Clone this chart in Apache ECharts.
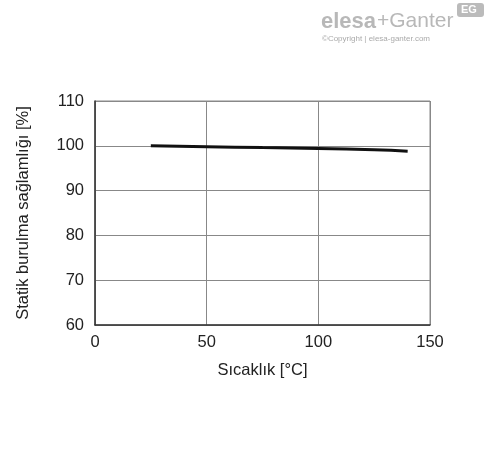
<!DOCTYPE html>
<html>
<head>
<meta charset="utf-8">
<script src="https://cdn.jsdelivr.net/npm/echarts@6/dist/echarts.min.js"></script>
<style>html,body{margin:0;padding:0;background:#fff}#c{width:488px;height:454px}</style>
</head>
<body>
<div id="c"></div>
<script>
const temperatures = [25, 50, 75, 100, 125, 140];
const strength = [100, 99.8, 99.6, 99.4, 99.1, 98.8];
const xTicks = [0, 50, 100, 150];
const yTicks = [60, 70, 80, 90, 100, 110];
const xName = 'Sıcaklık [°C]';
const yName = 'Statik burulma sağlamlığı [%]';

const chart = echarts.init(document.getElementById('c'), null, {renderer: 'canvas'});
const font = 'Arial, "Liberation Sans", sans-serif';
chart.setOption({
  animation: false,
  backgroundColor: '#fff',
  grid: {left: 95, right: 58, top: 101, bottom: 129, show: true, borderColor: '#888', borderWidth: 1},
  xAxis: {
    type: 'value', min: xTicks[0], max: xTicks[xTicks.length - 1], interval: 50,
    name: xName, nameLocation: 'middle', nameGap: 37,
    nameTextStyle: {fontFamily: font, fontSize: 16.5, color: '#222'},
    axisLine: {lineStyle: {color: '#333', width: 1.5}},
    axisTick: {show: false},
    axisLabel: {fontFamily: font, fontSize: 16.5, color: '#222', margin: 9},
    splitLine: {lineStyle: {color: '#888', width: 1}}
  },
  yAxis: {
    type: 'value', min: yTicks[0], max: yTicks[yTicks.length - 1], interval: 10,
    name: yName, nameLocation: 'middle', nameGap: 63,
    nameTextStyle: {fontFamily: font, fontSize: 16.5, color: '#222'},
    axisLine: {show: true, lineStyle: {color: '#333', width: 1.5}},
    axisTick: {show: false},
    axisLabel: {fontFamily: font, fontSize: 16.5, color: '#222', margin: 11},
    splitLine: {lineStyle: {color: '#888', width: 1}}
  },
  series: [{
    type: 'line',
    data: temperatures.map((t, i) => [t, strength[i]]),
    symbol: 'none',
    lineStyle: {color: '#111', width: 3},
    smooth: true
  }],
  graphic: [
    {type: 'text', left: 321, top: 11, style: {text: 'elesa', font: '900 22px ' + font, fill: '#b8b8b8'}},
    {type: 'text', left: 377, top: 11, style: {text: '+Ganter', font: '21px ' + font, fill: '#b8b8b8'}},
    {type: 'text', left: 322, top: 35, style: {text: '©Copyright | elesa-ganter.com', font: '8px ' + font, fill: '#aaa'}},
    {type: 'rect', left: 457, top: 3, shape: {width: 27, height: 14, r: 3}, style: {fill: '#bbb'}},
    {type: 'text', left: 461, top: 4, style: {text: 'EG', font: 'bold 11px ' + font, fill: '#fff'}}
  ]
});
</script>
</body>
</html>
